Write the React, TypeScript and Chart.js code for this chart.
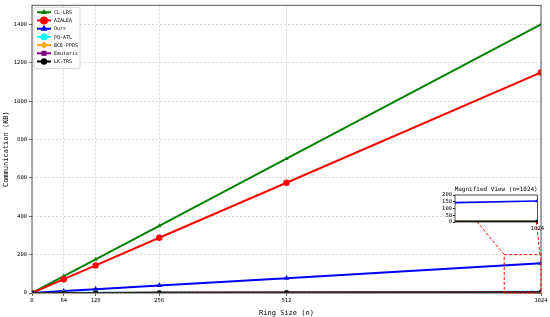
import React, { useEffect, useRef } from 'react';
import { Chart, registerables } from 'chart.js';
import { drawPoint } from 'chart.js/helpers';

Chart.register(...registerables);

const ringSizes = [0, 64, 128, 256, 512, 1024];
const clLrs = [0, 88, 175, 350, 700, 1400];
const azalea = [0, 72, 144, 288, 575, 1150];
const ours = [0, 10, 19.5, 39, 77.5, 155];
const pqAtl = [0, 0.4, 0.8, 1.6, 3.2, 6.4];
const bcePpds = [0, 0.3, 0.6, 1.2, 2.4, 4.8];
const emularis = [0, 0.25, 0.5, 1.0, 2.0, 4.0];
const lkTrs = [0, 0.2, 0.4, 0.8, 1.6, 3.2];
const yTicks = [0, 200, 400, 600, 800, 1000, 1200, 1400];
const insetYTicks = [0, 50, 100, 150, 200];
const insetXTicks = [1024];
const zoomX = [950, 1024];
const zoomY = [0, 200];

const FONT = "'DejaVu Sans Mono', monospace";

const seriesDefs = [
  { label: 'CL-LRS', data: clLrs, color: '#008000', style: 'triangle', r: 2.6 },
  { label: 'AZALEA', data: azalea, color: '#ff0000', style: 'circle', r: 3.2 },
  { label: 'Ours', data: ours, color: '#0000ff', style: 'triangle', r: 3.2 },
  { label: 'PQ-ATL', data: pqAtl, color: '#00ffff', style: 'circle', r: 2.6 },
  { label: 'BCE-PPDS', data: bcePpds, color: '#ffa500', style: 'rectRot', r: 2.8 },
  { label: 'Emularis', data: emularis, color: '#800080', style: 'rect', r: 2.8 },
  { label: 'LK-TRS', data: lkTrs, color: '#000000', style: 'circle', r: 2.4 },
];

function makeDatasets(scale: number) {
  return seriesDefs.map((s, i) => ({
    label: s.label,
    data: ringSizes.map((x, j) => ({ x, y: s.data[j] })),
    borderColor: s.color,
    backgroundColor: s.color,
    pointStyle: s.style as any,
    pointRadius: s.r * scale,
    pointBorderWidth: 0,
    borderWidth: 2 * scale,
    tension: 0,
    order: seriesDefs.length - i,
  }));
}

const plainTick = (v: any) => String(v);

export default function App() {
  const mainRef = useRef<HTMLCanvasElement>(null);
  const insetRef = useRef<HTMLCanvasElement>(null);

  useEffect(() => {
    const insetCanvas = insetRef.current!;
    const frameInset = {
      id: 'insetFrame',
      beforeDraw(chart: any) {
        const { ctx, chartArea: a } = chart;
        ctx.save();
        ctx.fillStyle = '#ffffff';
        ctx.fillRect(a.left, a.top, a.right - a.left, a.bottom - a.top);
        ctx.restore();
      },
      afterDraw(chart: any) {
        const { ctx, chartArea: a } = chart;
        ctx.save();
        ctx.strokeStyle = '#222';
        ctx.lineWidth = 0.8;
        ctx.strokeRect(a.left, a.top, a.right - a.left, a.bottom - a.top);
        ctx.font = `6px ${FONT}`;
        ctx.fillStyle = '#000';
        ctx.textAlign = 'center';
        ctx.textBaseline = 'bottom';
        ctx.fillText('Magnified View (n=1024)', (a.left + a.right) / 2, a.top - 3);
        ctx.restore();
      },
    };
    const inset = new Chart(insetCanvas, {
      type: 'line',
      data: { datasets: makeDatasets(0.8) as any },
      options: {
        animation: false,
        responsive: false,
        layout: { padding: { top: 15, right: 6, left: 0, bottom: 0 } },
        plugins: { legend: { display: false }, tooltip: { enabled: false }, title: { display: false } },
        scales: {
          x: {
            type: 'linear',
            min: zoomX[0],
            max: zoomX[1],
            afterBuildTicks: (s: any) => { s.ticks = insetXTicks.map((v) => ({ value: v })); },
            afterFit: (s: any) => { s.height = 14; },
            grid: { display: true, drawOnChartArea: false, tickLength: 2, color: '#222' },
            border: { display: false },
            ticks: { font: { family: FONT, size: 5.5 }, color: '#000', padding: 1, maxRotation: 0, autoSkip: false, callback: plainTick },
          },
          y: {
            min: zoomY[0],
            max: zoomY[1],
            afterBuildTicks: (s: any) => { s.ticks = insetYTicks.map((v) => ({ value: v })); },
            afterFit: (s: any) => { s.width = 35; },
            grid: { display: true, drawOnChartArea: false, tickLength: 2, color: '#222' },
            border: { display: false },
            ticks: { font: { family: FONT, size: 5.5 }, color: '#000', padding: 1, autoSkip: false, callback: plainTick },
          },
        },
      },
      plugins: [frameInset],
    });

    const mainPlugin = {
      id: 'mainExtras',
      afterDraw(chart: any) {
        const { ctx, chartArea: a, scales } = chart;
        ctx.save();
        ctx.strokeStyle = '#555';
        ctx.lineWidth = 1;
        ctx.strokeRect(a.left, a.top, a.right - a.left, a.bottom - a.top);
        const x0 = scales.x.getPixelForValue(zoomX[0]);
        const x1 = scales.x.getPixelForValue(zoomX[1]);
        const y0 = scales.y.getPixelForValue(zoomY[0]);
        const y1 = scales.y.getPixelForValue(zoomY[1]);
        ctx.strokeStyle = '#ff0000';
        ctx.lineWidth = 1;
        ctx.setLineDash([3, 2]);
        ctx.strokeRect(x0, y1, x1 - x0, y0 - y1);
        const ia = inset.chartArea;
        const ox = insetCanvas.offsetLeft;
        const oy = insetCanvas.offsetTop;
        ctx.beginPath();
        ctx.moveTo(x0, y1);
        ctx.lineTo(ox + ia.left, oy + ia.top);
        ctx.moveTo(x1 - 1, y1);
        ctx.lineTo(ox + ia.right - 1, oy + ia.bottom);
        ctx.stroke();
        ctx.setLineDash([]);
        // legend
        const lx = a.left + 2, ly = a.top + 2;
        const rowH = 8.2;
        const w = 46, h = seriesDefs.length * rowH + 4;
        ctx.fillStyle = 'rgba(255,255,255,0.85)';
        ctx.strokeStyle = '#ccc';
        ctx.lineWidth = 0.8;
        ctx.beginPath();
        ctx.roundRect(lx, ly, w, h, 2);
        ctx.fill();
        ctx.stroke();
        ctx.font = `5px ${FONT}`;
        ctx.textBaseline = 'middle';
        ctx.textAlign = 'left';
        seriesDefs.forEach((s, i) => {
          const cy = ly + 5 + i * rowH;
          ctx.strokeStyle = s.color;
          ctx.fillStyle = s.color;
          ctx.lineWidth = 2;
          ctx.beginPath();
          ctx.moveTo(lx + 3, cy);
          ctx.lineTo(lx + 17, cy);
          ctx.stroke();
          drawPoint(ctx, { pointStyle: s.style as any, radius: s.r + 0.8, rotation: 0, borderWidth: 0 } as any, lx + 10, cy);
          ctx.fillStyle = '#000';
          ctx.fillText(s.label, lx + 20, cy + 0.5);
        });
        ctx.restore();
      },
    };

    const main = new Chart(mainRef.current!, {
      type: 'line',
      data: { datasets: makeDatasets(1) as any },
      options: {
        animation: false,
        responsive: false,
        layout: { padding: { top: 4, right: 9, left: 0, bottom: 0 } },
        plugins: { legend: { display: false }, tooltip: { enabled: false } },
        scales: {
          x: {
            type: 'linear',
            min: 0,
            max: 1024,
            afterBuildTicks: (s: any) => { s.ticks = ringSizes.map((v) => ({ value: v })); },
            afterFit: (s: any) => { s.height = 24; },
            grid: { color: '#d0d0d0', tickColor: '#444', tickLength: 3, lineWidth: 0.8 },
            border: { display: false, dash: [2, 2] },
            ticks: { font: { family: FONT, size: 5.5 }, color: '#000', padding: 1, maxRotation: 0, autoSkip: false, callback: plainTick },
            title: { display: true, text: 'Ring Size (n)', font: { family: FONT, size: 7 }, color: '#000', padding: { top: 1, bottom: 0 } },
          },
          y: {
            min: 0,
            max: 1500,
            afterBuildTicks: (s: any) => { s.ticks = yTicks.map((v) => ({ value: v })); },
            afterFit: (s: any) => { s.width = 32; },
            grid: { color: '#d0d0d0', tickColor: '#444', tickLength: 3, lineWidth: 0.8 },
            border: { display: false, dash: [2, 2] },
            ticks: { font: { family: FONT, size: 5.5 }, color: '#000', padding: 2, autoSkip: false, callback: plainTick },
            title: { display: true, text: 'Communication (KB)', font: { family: FONT, size: 7 }, color: '#000', padding: { top: 2, bottom: 0 } },
          },
        },
      },
      plugins: [mainPlugin],
    });

    return () => {
      main.destroy();
      inset.destroy();
    };
  }, []);

  return (
    <div style={{ position: 'absolute', left: 0, top: 0, width: 550, height: 317, background: '#fff' }}>
      <canvas ref={mainRef} width={550} height={317} style={{ position: 'absolute', left: 0, top: 0 }} />
      <canvas ref={insetRef} width={125} height={56} style={{ position: 'absolute', left: 420, top: 180 }} />
    </div>
  );
}
